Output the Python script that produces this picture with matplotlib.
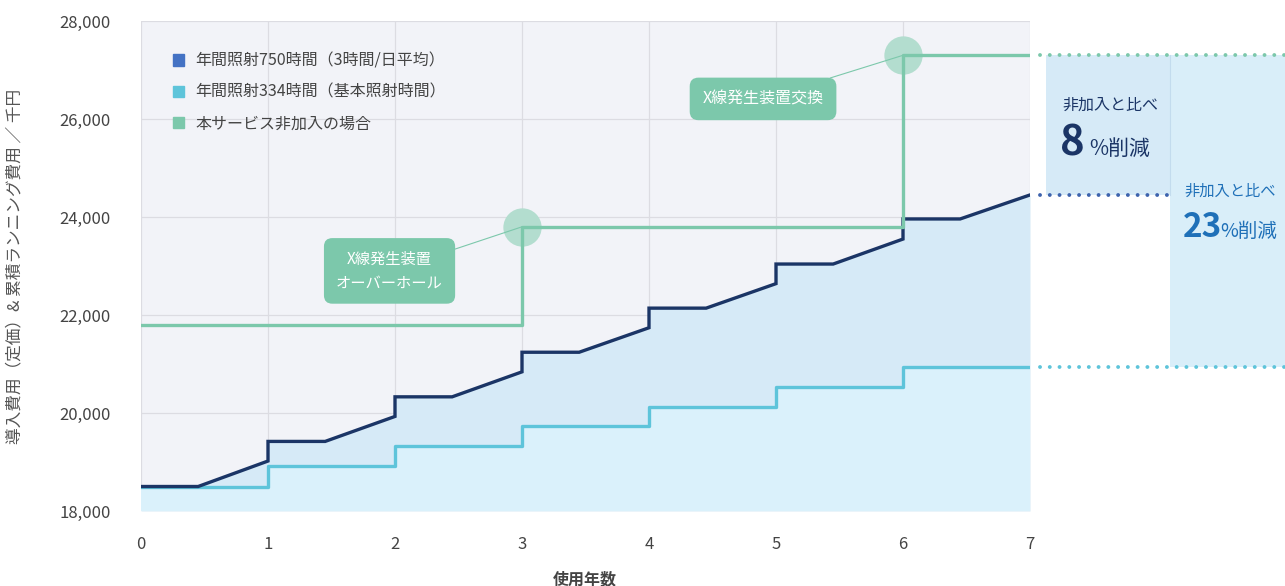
import matplotlib
matplotlib.use('Agg')
import matplotlib.pyplot as plt
from matplotlib.patches import Patch, Rectangle
from matplotlib.ticker import FuncFormatter

plt.rcParams['font.family'] = ['Noto Sans CJK JP', 'DejaVu Sans']

# data
years = [0, 1, 2, 3, 4, 5, 6, 7]
# 750h/year: value right after each yearly jump, value reached at end of the year
hi_start = [18500, 19420, 20330, 21240, 22140, 23040, 23960]
hi_end = [19020, 19930, 20840, 21740, 22640, 23550, 24450]
hi_ramp = 0.45          # fraction of the year the cost stays flat
# 334h/year step values
lo_vals = [18500, 18920, 19330, 19730, 20130, 20530, 20940, 20940]
# not subscribed
ns_vals = [21800, 21800, 21800, 23800, 23800, 23800, 27300, 27300]

labels = ['年間照射750時間（3時間/日平均）', '年間照射334時間（基本照射時間）', '本サービス非加入の場合']
c_hi = '#1b3566'
c_hi_leg = '#4472c4'
c_lo = '#5ec4da'
c_ns = '#7cc8ab'

hx, hy = [], []
for k in range(7):
    hx += [years[k], years[k] + hi_ramp, years[k + 1]]
    hy += [hi_start[k], hi_start[k], hi_end[k]]

fig = plt.figure(figsize=(12.85, 5.86), dpi=100)
ax = fig.add_axes([141/1285, 1 - 511/586, 889/1285, 490/586])
ax.set_facecolor('#f2f3f8')

# fills
lo_x, lo_y = [], []
for k in range(7):
    lo_x += [years[k], years[k + 1]]
    lo_y += [lo_vals[k], lo_vals[k]]
ax.fill_between(hx, 18000, hy, color='#d6eaf7', lw=0, zorder=1)
ax.fill_between(lo_x, 18000, lo_y, color='#daf1fb', lw=0, zorder=1.5)

ax.step(years, lo_vals, where='post', color=c_lo, lw=2.4, zorder=3)
ax.plot(hx, hy, color=c_hi, lw=2.4, zorder=3, solid_joinstyle='miter')
ax.step(years, ns_vals, where='post', color=c_ns, lw=2.4, zorder=4)

# dotted extensions to the right
dot = dict(ls=(0, (0.01, 2.5)), lw=2.8, dash_capstyle='round', clip_on=False, zorder=4)
ax.plot([7.08, 9.01], [ns_vals[-1]] * 2, color=c_ns, **dot)
ax.plot([7.08, 8.12], [hi_end[-1]] * 2, color='#3d63ad', **dot)
ax.plot([7.08, 9.01], [lo_vals[-1]] * 2, color=c_lo, **dot)

# reduction boxes
ax.add_patch(Rectangle((7.126, hi_end[-1]), 8.1 - 7.126, ns_vals[-1] - hi_end[-1],
                       color='#d6eaf7', lw=0, clip_on=False, zorder=0))
ax.add_patch(Rectangle((8.1, lo_vals[-1]), 9.01 - 8.1, ns_vals[-1] - lo_vals[-1],
                       color='#d9eef9', lw=0, clip_on=False, zorder=0))
ax.plot([8.1, 8.1], [hi_end[-1], ns_vals[-1]], color='#c3dcee', lw=0.8, clip_on=False, zorder=0.5)

# callouts
ax.scatter([3, 6], [ns_vals[3], ns_vals[6]], s=760, color='#b3ddcf', zorder=3.5, clip_on=False, lw=0)
box = dict(boxstyle='round,pad=0.8,rounding_size=0.55', fc=c_ns, ec='none')
arr = dict(arrowstyle='-', color=c_ns, lw=0.8, shrinkA=0, shrinkB=0)
ax.annotate('X線発生装置\nオーバーホール', xy=(3, ns_vals[3]), xytext=(1.957, 22900),
            ha='center', va='center', color='white', fontsize=11, linespacing=1.55,
            bbox=box, arrowprops=arr, zorder=6)
ax.annotate('X線発生装置交換', xy=(6, ns_vals[6]), xytext=(4.898, 26410),
            ha='center', va='center', color='white', fontsize=11.5,
            bbox=box, arrowprops=arr, zorder=6)

ax.set_xlim(0, 7)
ax.set_ylim(18000, 28000)
ax.set_xticks(years)
ax.set_yticks(range(18000, 28001, 2000))
ax.yaxis.set_major_formatter(FuncFormatter(lambda v, p: '{:,.0f}'.format(v)))
ax.grid(True, color='#dcdce2', lw=0.9)
ax.set_axisbelow(True)
for s in ax.spines.values():
    s.set_visible(False)
ax.tick_params(length=0, labelsize=12, labelcolor='#444444')
ax.tick_params(axis='x', pad=18)
ax.tick_params(axis='y', pad=22)

handles = [Patch(color=c) for c in [c_hi_leg, c_lo, c_ns]]
ax.legend(handles, labels, loc='upper left', bbox_to_anchor=(0.02, 0.965), frameon=False,
          fontsize=11.5, handlelength=0.7, handleheight=0.7, handletextpad=0.7,
          labelspacing=0.9, labelcolor='#444444')

fig.text(15/1285, 1 - 266/586, '導入費用（定価）& 累積ランニング費用 ／ 千円', rotation=90,
         ha='center', va='center', fontsize=12, color='#555555')
fig.text(585/1285, 1 - 579/586, '使用年数', ha='center', va='center', fontsize=11.5,
         color='#444444', weight='bold')

# reduction labels
fig.text(1062/1285, 1 - 105/586, '非加入と比べ', fontsize=11.5, color='#1b3566', va='center')
fig.text(1060/1285, 1 - 155/586, '8', fontsize=30, color='#1b3566', weight='bold', va='baseline')
fig.text(1089/1285, 1 - 155/586, '%削減', fontsize=15, color='#1b3566', va='baseline')
fig.text(1184/1285, 1 - 191/586, '非加入と比べ', fontsize=11, color='#1f70b8', va='center')
fig.text(1183/1285, 1 - 237/586, '23', fontsize=24, color='#1f70b8', weight='bold', va='baseline')
fig.text(1220/1285, 1 - 237/586, '%削減', fontsize=14, color='#1f70b8', va='baseline')

fig.savefig('out.png', dpi=100, facecolor='white')
